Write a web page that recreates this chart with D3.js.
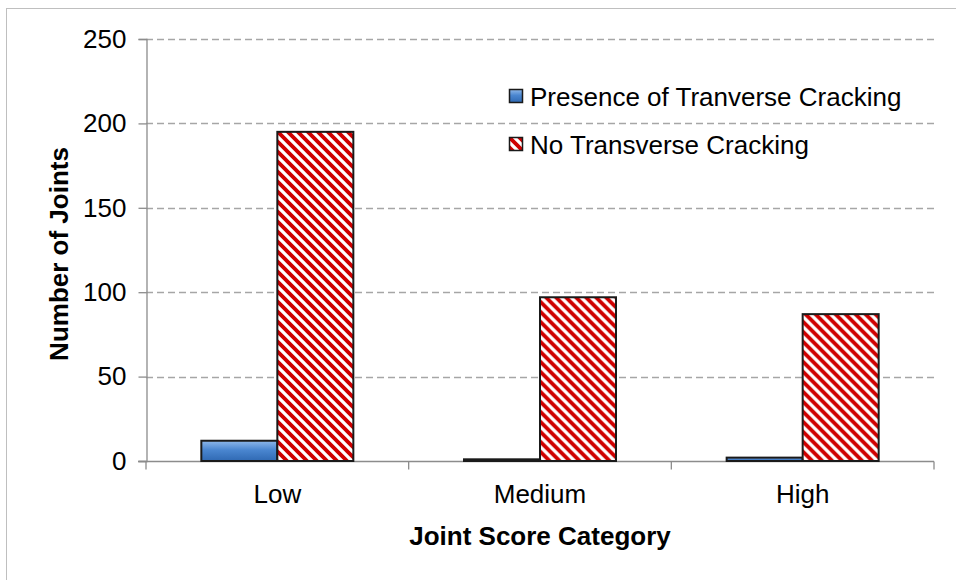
<!DOCTYPE html>
<html><head><meta charset="utf-8">
<script src="https://cdn.jsdelivr.net/npm/d3@7"></script>
<style>body{margin:0;background:#fff}svg{display:block}text{font-family:"Liberation Sans",Arial,sans-serif}</style>
</head><body>
<script>
const categories = ["Low", "Medium", "High"];
const seriesNames = ["Presence of Tranverse Cracking", "No Transverse Cracking"];
const presenceValues = [12, 1, 2];
const noCrackValues = [195, 97, 87];
const yTicks = [0, 50, 100, 150, 200, 250];

const W = 956, H = 580;
const m = {left: 146, right: 22, top: 39, bottom: 119};
const svg = d3.select("body").append("svg").attr("width", W).attr("height", H);
const defs = svg.append("defs");

const grad = defs.append("linearGradient").attr("id", "blueGrad").attr("x1", 0).attr("y1", 0).attr("x2", 0).attr("y2", 1);
grad.append("stop").attr("offset", "0%").attr("stop-color", "#8fb8ea");
grad.append("stop").attr("offset", "45%").attr("stop-color", "#4a86d0");
grad.append("stop").attr("offset", "100%").attr("stop-color", "#2f69b3");

const pat = defs.append("pattern").attr("id", "hatch").attr("patternUnits", "userSpaceOnUse")
  .attr("width", 10).attr("height", 10);
pat.append("rect").attr("width", 10).attr("height", 10).attr("fill", "#fff");
pat.append("path").attr("d", "M-2,-2 L12,12 M-2,8 L2,12 M8,-2 L12,2")
  .attr("stroke", "#cf0000").attr("stroke-width", 3.8);

// outer frame
svg.append("rect").attr("x", 6.5).attr("y", 8.5).attr("width", 1000).attr("height", 1000)
  .attr("fill", "none").attr("stroke", "#bfbfbf").attr("stroke-width", 1);

const x0 = d3.scaleBand().domain(categories).range([m.left, W - m.right]).paddingInner(0).paddingOuter(0);
const x1 = d3.scaleBand().domain(seriesNames).range([0, x0.bandwidth()]).paddingInner(0).paddingOuter(0.728);
const y = d3.scaleLinear().domain([0, 250]).range([H - m.bottom, m.top]);

// gridlines
svg.append("g").selectAll("line").data(yTicks.filter(d => d > 0)).join("line")
  .attr("x1", m.left).attr("x2", W - m.right)
  .attr("y1", d => Math.round(y(d)) + 0.5).attr("y2", d => Math.round(y(d)) + 0.5)
  .attr("stroke", "#a6a6a6").attr("stroke-width", 1.3).attr("stroke-dasharray", "7,4");

// y axis
const yAxis = svg.append("g").attr("transform", `translate(${m.left + 0.5},0)`)
  .call(d3.axisLeft(y).tickValues(yTicks).tickSize(8).tickPadding(12).tickFormat(d3.format("d")));
yAxis.select(".domain").attr("stroke", "#8c8c8c").attr("stroke-width", 1.3);
yAxis.selectAll(".tick line").attr("stroke", "#8c8c8c").attr("stroke-width", 1.3);
yAxis.selectAll(".tick text").attr("font-size", 26).attr("fill", "#000").attr("font-family", "Liberation Sans, Arial, sans-serif");

// x axis
const xBase = Math.round(y(0)) + 0.5;
svg.append("line").attr("x1", m.left - 8).attr("x2", W - m.right).attr("y1", xBase).attr("y2", xBase)
  .attr("stroke", "#8c8c8c").attr("stroke-width", 1.3);
const bounds = categories.map(c => x0(c)).concat([x0(categories[categories.length - 1]) + x0.bandwidth()]);
svg.append("g").selectAll("line").data(bounds).join("line")
  .attr("x1", d => d).attr("x2", d => d).attr("y1", xBase).attr("y2", xBase + 8)
  .attr("stroke", "#8c8c8c").attr("stroke-width", 1.3);
svg.append("g").selectAll("text").data(categories).join("text")
  .attr("x", d => x0(d) + x0.bandwidth() / 2).attr("y", 503)
  .attr("text-anchor", "middle").attr("font-size", 26).attr("fill", "#000").text(d => d);

// bars
const rows = categories.map((c, i) => ({cat: c, vals: [presenceValues[i], noCrackValues[i]]}));
const fills = ["url(#blueGrad)", "url(#hatch)"];
const groups = svg.append("g").selectAll("g").data(rows).join("g")
  .attr("transform", d => `translate(${x0(d.cat)},0)`);
groups.selectAll("rect").data(d => d.vals.map((v, j) => ({s: seriesNames[j], v, j}))).join("rect")
  .attr("x", d => x1(d.s)).attr("width", x1.bandwidth())
  .attr("y", d => y(d.v)).attr("height", d => y(0) - y(d.v))
  .attr("fill", d => fills[d.j]).attr("stroke", "#1a1a1a").attr("stroke-width", 2);

// legend
const legend = svg.append("g").attr("transform", "translate(509,89)");
seriesNames.forEach((s, i) => {
  const g = legend.append("g").attr("transform", `translate(0,${i * 48})`);
  g.append("rect").attr("x", 0.5).attr("y", 0.5).attr("width", 13).attr("height", 13)
    .attr("fill", fills[i]).attr("stroke", "#1a1a1a").attr("stroke-width", 1.5);
  g.append("text").attr("x", 21).attr("y", 17).attr("font-size", 26).attr("fill", "#000").text(s);
});

// axis titles
svg.append("text").attr("x", x0.range()[0] + (x0.range()[1] - x0.range()[0]) / 2 - 0).attr("y", 545)
  .attr("text-anchor", "middle").attr("font-size", 26).attr("font-weight", "bold").attr("fill", "#000")
  .text("Joint Score Category");
svg.append("text").attr("transform", `translate(68,${(m.top + H - m.bottom) / 2 + 4}) rotate(-90)`)
  .attr("text-anchor", "middle").attr("font-size", 26).attr("font-weight", "bold").attr("fill", "#000")
  .text("Number of Joints");
</script>
</body></html>
